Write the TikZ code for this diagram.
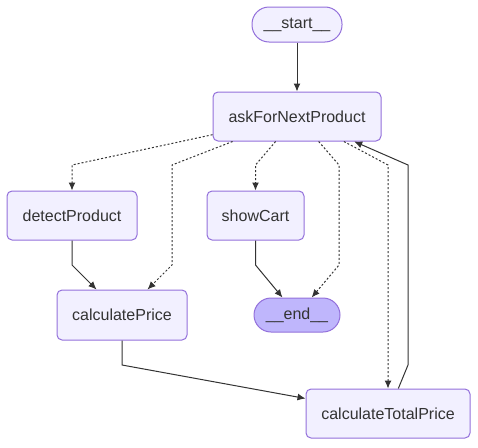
\documentclass[tikz,border=0pt]{standalone}
\usepackage{fontspec}
\setmainfont{Liberation Sans}
\usetikzlibrary{arrows.meta}
\definecolor{nodefill}{HTML}{F2F0FF}
\definecolor{nodeline}{HTML}{9370DB}
\definecolor{endfill}{HTML}{BFB6FC}
\definecolor{edgecol}{HTML}{333333}

\begin{document}
\begin{tikzpicture}[x=1pt,y=-1pt,
    box/.style={draw=nodeline,fill=nodefill,line width=1pt,rounded corners=5pt,minimum height=49pt,inner sep=0pt,text=edgecol,font=\fontsize{16}{19}\selectfont},
    term/.style={box,rounded corners=17pt,minimum height=35pt},
    edge/.style={draw=edgecol,line width=1pt,-{Latex[length=8pt,width=7pt]}},
    cond/.style={edge,dash pattern=on 2pt off 2pt}]
    \useasboundingbox (0,0) rectangle (478,447);
    % nodes
    \node[term,minimum width=90pt] (start) at (297,24.5){\_\_start\_\_};
    \node[box,minimum width=168pt] (ask) at (297,116.5){askForNextProduct};
    \node[box,minimum width=130pt] (detect) at (72,215.5){detectProduct};
    \node[box,minimum width=97pt] (cart) at (255.5,215.5){showCart};
    \node[box,minimum width=130pt,minimum height=50pt] (price) at (122,315){calculatePrice};
    \node[term,fill=endfill,minimum width=86pt,minimum height=34pt] (end) at (297,315){\_\_end\_\_};
    \node[box,minimum width=164pt] (total) at (388,413.5){calculateTotalPrice};
    % edges
    \draw[edge] (start) -- (ask);
    \draw[cond] (ask) -- (72,165) -- (detect);
    \draw[cond] (ask) -- (172,165) -- (172,265) -- (price);
    \draw[cond] (ask) -- (255.5,165) -- (cart);
    \draw[cond] (ask) -- (339,165) -- (339,265) -- (end);
    \draw[cond] (ask) -- (388,165) -- (total);
    \draw[edge] (detect) -- (72,265) -- (price);
    \draw[edge] (cart) -- (255.5,265) -- (end);
    \draw[edge] (price) -- (122,365) -- (total);
    \draw[edge] (total) -- (408,365) -- (408,165) -- (ask);
\end{tikzpicture}
\end{document}
